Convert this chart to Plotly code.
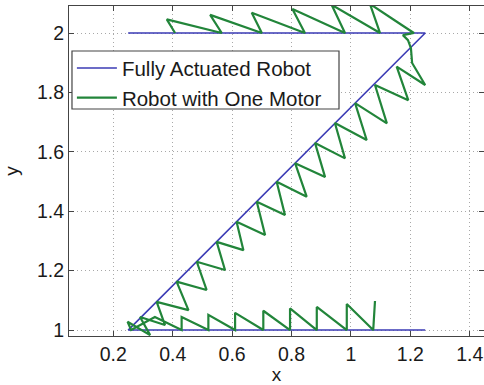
import plotly.graph_objects as go

# Reference path (fully actuated robot)
blue_x = [0.25, 1.25, 0.25, 1.25]
blue_y = [2.0, 2.0, 1.0, 1.0]

# Robot with one motor (vertices)
green_x = [0.408, 0.380, 0.565, 0.526, 0.700, 0.666, 0.845, 0.803, 0.980, 0.935,
           1.098, 1.064, 1.171, 1.212, 1.175, 1.192, 1.202, 1.206, 1.250, 1.154,
           1.193, 1.081, 1.121, 1.014, 1.053, 0.946, 0.980, 0.879, 0.913, 0.812,
           0.851, 0.750, 0.778, 0.683, 0.711, 0.615, 0.638, 0.548, 0.576, 0.481,
           0.514, 0.413, 0.453, 0.346, 0.374, 0.290, 0.324, 0.248, 0.260, 0.340,
           0.430, 0.430, 0.520, 0.520, 0.610, 0.610, 0.705, 0.705, 0.795, 0.795,
           0.885, 0.885, 0.986, 0.986, 1.075, 1.081]
green_y = [2.000, 2.046, 2.000, 2.061, 2.000, 2.068, 2.000, 2.081, 2.000, 2.095,
           2.000, 2.098, 2.027, 2.000, 1.993, 1.976, 1.949, 1.899, 1.825, 1.887,
           1.774, 1.825, 1.696, 1.764, 1.640, 1.697, 1.578, 1.630, 1.515, 1.562,
           1.449, 1.499, 1.387, 1.432, 1.320, 1.365, 1.269, 1.297, 1.202, 1.230,
           1.135, 1.163, 1.067, 1.095, 1.017, 1.044, 0.983, 1.028, 1.000, 1.044,
           1.000, 1.044, 1.000, 1.051, 1.000, 1.058, 1.000, 1.065, 1.000, 1.073,
           1.000, 1.078, 1.000, 1.088, 1.000, 1.098]

x_ticks = [0.2, 0.4, 0.6, 0.8, 1.0, 1.2, 1.4]
x_tick_labels = ["0.2", "0.4", "0.6", "0.8", "1", "1.2", "1.4"]
y_ticks = [1.0, 1.2, 1.4, 1.6, 1.8, 2.0]
y_tick_labels = ["1", "1.2", "1.4", "1.6", "1.8", "2"]

FONT = "Liberation Sans, Arial, Helvetica, sans-serif"

fig = go.Figure()
fig.add_trace(go.Scatter(x=blue_x, y=blue_y, mode="lines",
                         name="Fully Actuated Robot",
                         line=dict(color="#3b3bb5", width=1.6)))
fig.add_trace(go.Scatter(x=green_x, y=green_y, mode="lines",
                         name="Robot with One Motor",
                         line=dict(color="#22853a", width=2.2)))

axis_common = dict(
    showline=True, linecolor="#444444", linewidth=1.2, mirror="ticks",
    ticks="inside", ticklen=5, tickcolor="#444444",
    showgrid=True, gridcolor="#a8a8a8", griddash="1px,3px", gridwidth=1,
    zeroline=False, tickfont=dict(family=FONT, size=19.5, color="#1a1a1a"),
)

fig.update_layout(
    width=484, height=385,
    margin=dict(l=69, r=0, t=6, b=49),
    paper_bgcolor="white", plot_bgcolor="white",
    font=dict(family=FONT, color="#1a1a1a"),
    xaxis=dict(range=[0.0508, 1.448], tickvals=x_ticks, ticktext=x_tick_labels,
               title=dict(text="x", font=dict(family=FONT, size=19), standoff=6),
               **axis_common),
    yaxis=dict(range=[0.980, 2.091], tickvals=y_ticks, ticktext=y_tick_labels,
               title=dict(text="y", font=dict(family=FONT, size=19), standoff=13),
               **axis_common),
    legend=dict(x=0.007, y=0.872, xanchor="left", yanchor="top",
                bgcolor="rgba(0,0,0,0)", borderwidth=0,
                font=dict(family=FONT, size=20.5, color="#1a1a1a"),
                itemwidth=40, tracegroupgap=0),
    showlegend=True,
    shapes=[dict(type="rect", xref="paper", yref="paper",
                 x0=0.0072, x1=0.6506, y0=0.6879, y1=0.8636,
                 fillcolor="white", line=dict(color="#444444", width=1.2),
                 layer="above")],
)

fig.write_html("out.html", config={"displayModeBar": False},
               post_script="document.body.style.margin='0';")
